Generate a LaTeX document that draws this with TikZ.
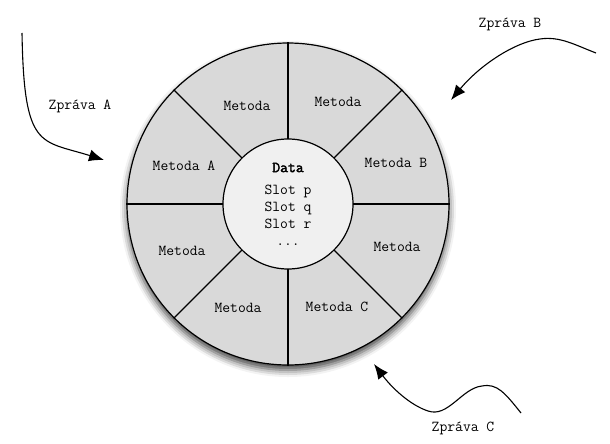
\documentclass[tikz,border=0pt]{standalone}
\usepackage{fontspec}
\setmonofont{Latin Modern Mono}[AutoFakeBold=2.5]
\usetikzlibrary{arrows.meta,shadows.blur}

\tikzset{
  label text/.style={font=\ttfamily\fontsize{15.2}{17}\selectfont},
  message/.style={-{Latex[length=15pt,width=12pt]}, line width=1.1pt},
}

\begin{document}
\begin{tikzpicture}[x=1pt,y=-1pt]
\useasboundingbox (0,0) rectangle (610,444);

\node[circle, draw, line width=1.2pt, fill=black!15, minimum size=322pt, inner sep=0pt,
  blur shadow={shadow xshift=0pt, shadow yshift=-5pt, shadow blur radius=7pt, shadow opacity=75}]
  (cell) at (288,204) {};
\foreach \a in {0,45,...,315}
  \draw[line width=1.1pt] (cell.center) -- (cell.\a);
\node[circle, draw, line width=1.2pt, fill=black!6, minimum size=130pt, inner sep=0pt,
  label text, align=center] (data) at (288,204)
  {\textbf{Data}\\[5pt] Slot p\\ Slot q\\ Slot r\\ ...};

\node[label text] (m1) at (247,106) {Metoda};
\node[label text] (m2) at (338,102) {Metoda};
\node[label text] (metA) at (184,166) {Metoda A};
\node[label text] (metB) at (396,163) {Metoda B};
\node[label text] (m3) at (182,251) {Metoda};
\node[label text] (m4) at (397,247) {Metoda};
\node[label text] (m5) at (238,308) {Metoda};
\node[label text] (metC) at (337,307) {Metoda C};

\node[label text] (msgA) at (80,106) {Zpráva A};
\node[label text] (msgB) at (510,24) {Zpráva B};
\node[label text] (msgC) at (463,428) {Zpráva C};

\coordinate (srcA) at (22,33);
\coordinate (tipA) at (104,160);
\coordinate (srcB) at (596,53);
\coordinate (topB) at (540,39);
\coordinate (tipB) at (451,100);
\coordinate (srcC) at (521,413);
\coordinate (topC) at (482,386);
\coordinate (lowC) at (428,411);
\coordinate (tipC) at (374,364);

\draw[message] (srcA) .. controls (24,150) and (40,140) .. (tipA);
\draw[message] (srcB) .. controls (575,45) and (560,36) .. (topB)
  .. controls (515,42) and (480,65) .. (tipB);
\draw[message] (srcC) .. controls (505,393) and (497,383) .. (topC)
  .. controls (462,388) and (448,418) .. (lowC)
  .. controls (410,405) and (392,388) .. (tipC);
\end{tikzpicture}
\end{document}
